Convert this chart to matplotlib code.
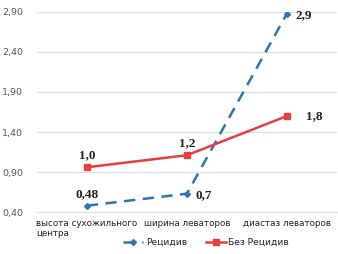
import matplotlib as mpl
mpl.use('Agg')
import matplotlib.pyplot as plt

categories = ['высота сухожильного\nцентра', 'ширина леваторов', 'диастаз леваторов']
relapse = [0.48, 0.63, 2.88]
no_relapse = [0.96, 1.11, 1.60]
relapse_labels = ['0,48', '0,7', '2,9']
no_relapse_labels = ['1,0', '1,2', '1,8']
yticks = [0.40, 0.90, 1.40, 1.90, 2.40, 2.90]

blue = '#2e75b6'
red = '#e8403f'

fig = plt.figure(figsize=(3.38, 2.54), dpi=100)
ax = fig.add_axes([0.109, 0.165, 0.888, 0.788])

x = range(len(categories))
ax.plot(x, relapse, color=blue, lw=1.8, ls=(0, (4.5, 3)), marker='D', ms=3,
        label='Рецидив')
ax.plot(x, no_relapse, color=red, lw=1.8, marker='s', ms=4.5, label='Без Рецидив')

lab_font = dict(family='Liberation Serif', weight='bold', size=9.5, color='#222222')
# label offsets in points
rel_off = [(0, 8), (12, -1), (12, -1)]
norel_off = [(0, 9), (0, 9), (20, 0)]
for i in x:
    ax.annotate(relapse_labels[i], (i, relapse[i]), xytext=rel_off[i],
                textcoords='offset points', ha='center', va='center', **lab_font)
    ax.annotate(no_relapse_labels[i], (i, no_relapse[i]), xytext=norel_off[i],
                textcoords='offset points', ha='center', va='center', **lab_font)

ax.set_xlim(-0.5, 2.5)
ax.set_ylim(0.40, 2.90)
ax.set_yticks(yticks)
ax.set_yticklabels([('%.2f' % v).replace('.', ',') for v in yticks])
ax.set_xticks(list(x))
ax.set_xticklabels(categories, multialignment='left')
ax.tick_params(axis='y', length=0, pad=10, labelsize=6.8, labelcolor='#555555')
ax.tick_params(axis='x', length=0, pad=5, labelsize=6.3, labelcolor='#222222')
ax.grid(axis='y', color='#dedede', lw=0.8)
ax.set_axisbelow(True)
for s in ['top', 'right', 'left']:
    ax.spines[s].set_visible(False)
ax.spines['bottom'].set_color('#dedede')

fig.legend(loc='center', bbox_to_anchor=(0.61, 0.045), ncol=2, frameon=False,
           fontsize=6.6, handlelength=2.2, columnspacing=2.0, handletextpad=0.3,
           labelcolor='#222222')

plt.savefig('out.png', dpi=100)
